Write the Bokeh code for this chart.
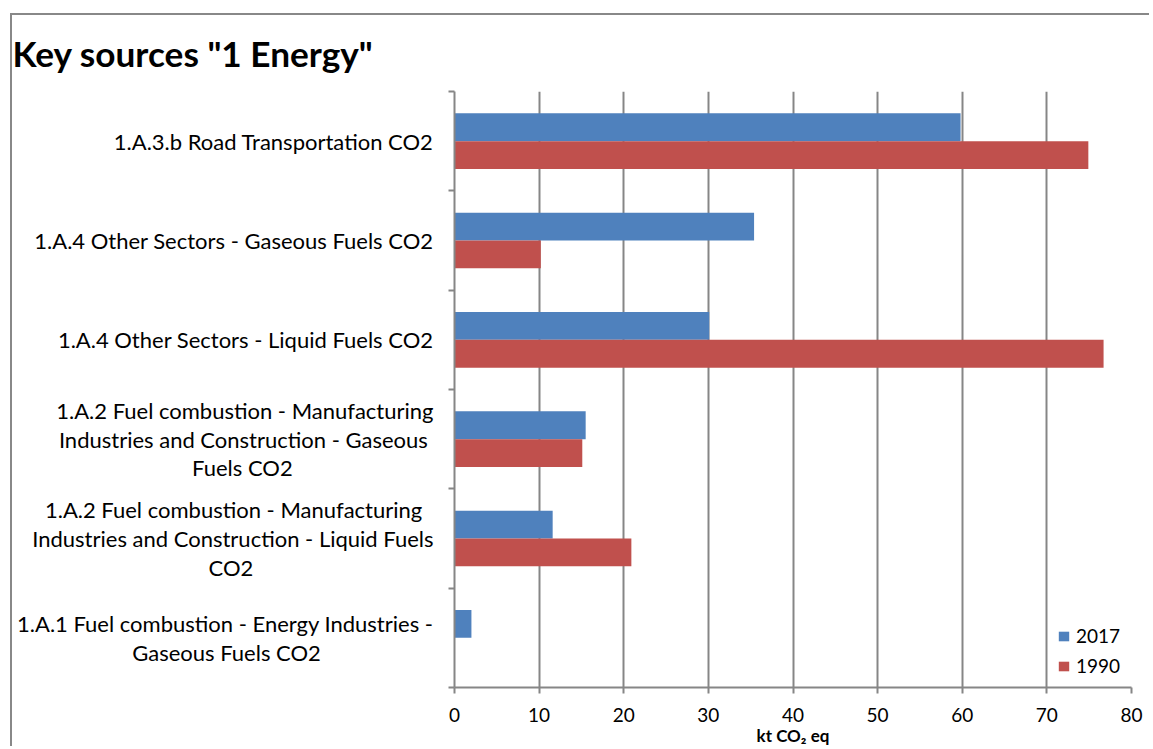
from bokeh.plotting import figure
from bokeh.models import FixedTicker, Range1d, Spacer, Title
from bokeh.layouts import column, row
from bokeh.embed import file_html
from bokeh.resources import INLINE
import numpy as np

# ---- data ----
categories = [
    "1.A.1 Fuel combustion - Energy Industries -\nGaseous Fuels CO2",
    "1.A.2 Fuel combustion - Manufacturing\nIndustries and Construction - Liquid Fuels\nCO2",
    "1.A.2 Fuel combustion - Manufacturing\nIndustries and Construction - Gaseous\nFuels CO2",
    "1.A.4 Other Sectors - Liquid Fuels CO2",
    "1.A.4 Other Sectors - Gaseous Fuels CO2",
    "1.A.3.b Road Transportation CO2",
]
values_2017 = [2.0, 11.6, 15.5, 30.1, 35.4, 59.8]
values_1990 = [0.0, 20.9, 15.1, 76.7, 10.2, 74.9]
x_ticks = [0, 10, 20, 30, 40, 50, 60, 70, 80]
series_names = ["2017", "1990"]

# trailing no-break spaces per wrapped line so the lines appear centred (display only)
line_padding = {0: [0, 20], 1: [2, 0, 32], 2: [0, 1, 25]}

BLUE = "#4F81BD"
RED = "#C0504D"
GRAY = "#868686"
FONT = "Lato"

n = len(categories)
centers = np.arange(n) + 0.5
bar_h = 0.28

p = figure(
    width=1139, height=733,
    x_range=Range1d(0, 80), y_range=Range1d(0, n),
    output_backend="svg", toolbar_location=None,
    min_border_left=442, min_border_right=20,
    min_border_top=76, min_border_bottom=61,
)
p.styles = {"border-top": "2px solid #888888", "border-left": "2px solid #888888"}

p.hbar(y=centers + bar_h / 2, left=0, right=values_2017, height=bar_h,
       fill_color=BLUE, line_color=None, legend_label=series_names[0])
p.hbar(y=centers - bar_h / 2, left=0, right=values_1990, height=bar_h,
       fill_color=RED, line_color=None, legend_label=series_names[1])

# title (a thin blank title below it lifts it away from the plot area)
p.title.text = 'Key sources "1 Energy"'
p.title.text_font = FONT
p.title.text_font_style = "bold"
p.title.text_font_size = "35.2px"
p.title.text_color = "#000000"
p.title.offset = -442
p.title.standoff = 10
p.add_layout(Title(text=" ", text_font_size="1px", standoff=10), "above")

p.outline_line_color = None
p.background_fill_color = "white"
p.border_fill_color = "white"

# grid
p.ygrid.grid_line_color = None
p.xgrid.ticker = FixedTicker(ticks=x_ticks)
p.xgrid.grid_line_color = GRAY
p.xgrid.grid_line_width = 2

# x axis
xa = p.xaxis[0]
xa.ticker = FixedTicker(ticks=x_ticks)
xa.axis_line_color = GRAY
xa.axis_line_width = 2
xa.major_tick_line_color = GRAY
xa.major_tick_line_width = 2
xa.major_tick_out = 6
xa.major_tick_in = 0
xa.minor_tick_line_color = None
xa.major_label_text_font = FONT
xa.major_label_text_font_size = "19px"
xa.major_label_text_color = "#000000"
xa.major_label_standoff = 14
xa.axis_label = "kt CO\u2082 eq"
xa.axis_label_text_font = FONT
xa.axis_label_text_font_style = "bold"
xa.axis_label_text_font_size = "17px"
xa.axis_label_text_color = "#000000"
xa.axis_label_standoff = 0

# y axis
ya = p.yaxis[0]
ya.ticker = FixedTicker(ticks=list(centers), minor_ticks=list(range(n + 1)))
overrides = {}
for i, (c, lab) in enumerate(zip(centers, categories)):
    lines = lab.split("\n")
    pads = line_padding.get(i, [0] * len(lines))
    overrides[float(c)] = "\n".join(ln + "\u00a0" * k for ln, k in zip(lines, pads))
ya.major_label_overrides = overrides
ya.axis_line_color = GRAY
ya.axis_line_width = 2
ya.major_tick_line_color = None
ya.major_tick_out = 0
ya.major_tick_in = 0
ya.minor_tick_line_color = GRAY
ya.minor_tick_line_width = 2
ya.minor_tick_out = 6
ya.minor_tick_in = 0
ya.major_label_text_font = FONT
ya.major_label_text_font_size = "22px"
ya.major_label_text_color = "#000000"
ya.major_label_text_line_height = 1.06
ya.major_label_standoff = 15

# legend
lg = p.legend[0]
lg.location = (603, 10)
lg.margin = 0
lg.background_fill_alpha = 0
lg.border_line_color = None
lg.label_text_font = FONT
lg.label_text_font_size = "19px"
lg.label_text_color = "#000000"
lg.glyph_width = 13
lg.glyph_height = 12
lg.label_height = 22
lg.label_standoff = 6
lg.spacing = 7
lg.padding = 5

layout = column(Spacer(height=13), row(Spacer(width=10), p))
open("out.html", "w").write(file_html(layout, INLINE))
